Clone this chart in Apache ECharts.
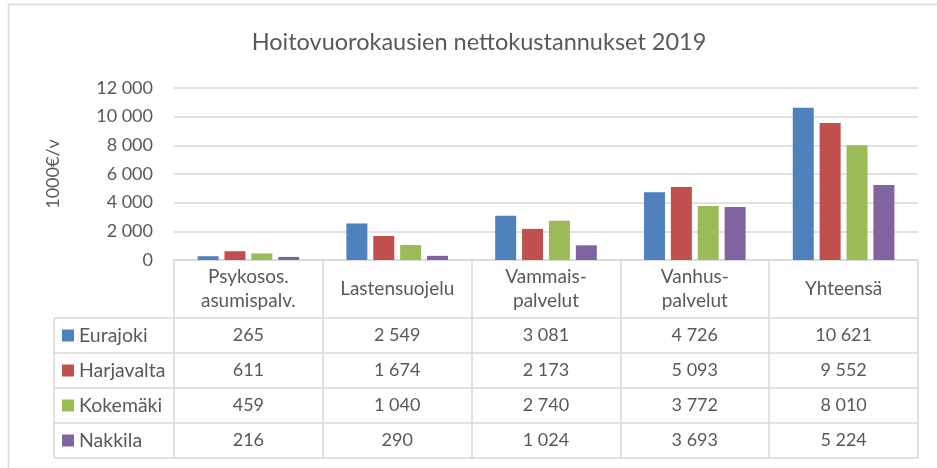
<!DOCTYPE html>
<html>
<head>
<meta charset="utf-8">
<script src="https://cdn.jsdelivr.net/npm/echarts@6/dist/echarts.min.js"></script>
<style>
  html, body { margin: 0; padding: 0; background: #fff; }
  #chart { width: 937px; height: 468px; }
</style>
</head>
<body>
<div id="chart"></div>
<script>
// data
const categories = ["Psykosos.\nasumispalv.", "Lastensuojelu", "Vammais-\npalvelut", "Vanhus-\npalvelut", "Yhteensä"];
const seriesNames = ["Eurajoki", "Harjavalta", "Kokemäki", "Nakkila"];
const eurajoki = [265, 2549, 3081, 4726, 10621];
const harjavalta = [611, 1674, 2173, 5093, 9552];
const kokemaki = [459, 1040, 2740, 3772, 8010];
const nakkila = [216, 290, 1024, 3693, 5224];
const yTicks = [0, 2000, 4000, 6000, 8000, 10000, 12000];
const colors = ["#4F81BD", "#C0504D", "#9BBB59", "#8064A2"];

const allValues = [eurajoki, harjavalta, kokemaki, nakkila];
const FONT = "Lato";
const TEXT = "#595959";
const LINE = "#d9d9d9";

// layout
const gridLeft = 174, gridRight = 918, gridTop = 88, gridBottom = 260;
const headerBottom = 318, rowH = 35, tableLeft = 54;

function fmt(v) {
  return String(v).replace(/\B(?=(\d{3})+(?!\d))/g, " ");
}

const chart = echarts.init(document.getElementById("chart"));

const series = seriesNames.map((name, i) => ({
  name: name,
  type: "bar",
  data: allValues[i],
  barWidth: 21,
  barGap: "28%",
  itemStyle: { color: colors[i] },
}));

chart.setOption({
  animation: false,
  textStyle: { fontFamily: FONT },
  grid: {
    left: gridLeft,
    right: 937 - gridRight,
    top: gridTop,
    bottom: 468 - gridBottom,
  },
  xAxis: {
    type: "category",
    data: categories,
    axisLine: { lineStyle: { color: LINE, width: 1.5 } },
    axisTick: {
      show: true,
      interval: 0,
      length: headerBottom + rowH * 4 - gridBottom,
      lineStyle: { color: LINE, width: 1.5 },
    },
    axisLabel: {
      interval: 0,
      color: TEXT,
      fontSize: 19,
      lineHeight: 24,
      verticalAlign: "middle",
      margin: 29,
    },
  },
  yAxis: {
    type: "value",
    min: yTicks[0],
    max: yTicks[yTicks.length - 1],
    interval: 2000,
    name: "1000€/v",
    nameLocation: "middle",
    nameRotate: 90,
    nameGap: 112,
    nameTextStyle: { color: TEXT, fontSize: 18 },
    axisLine: { show: false },
    axisTick: { show: false },
    axisLabel: { color: TEXT, fontSize: 18, margin: 21, formatter: (v) => fmt(v) },
    splitLine: { lineStyle: { color: LINE, width: 1.5 } },
  },
  series: series,
});

// data table below the axis, built from the same arrays
const elements = [];
// outer chart border (top and left visible)
elements.push({
  type: "rect",
  shape: { x: 8.5, y: 4.5, width: 960, height: 500 },
  style: { fill: null, stroke: LINE, lineWidth: 1.5 },
  silent: true,
});
// title
elements.push({
  type: "text",
  x: 479,
  y: 42,
  style: {
    text: "Hoitovuorokausien nettokustannukset 2019",
    fill: TEXT,
    font: "23.5px " + FONT,
    textAlign: "center",
    textVerticalAlign: "middle",
  },
});
// horizontal table lines
for (let r = 0; r <= 4; r++) {
  const y = headerBottom + r * rowH;
  elements.push({
    type: "line",
    shape: { x1: tableLeft, y1: y, x2: gridRight, y2: y },
    style: { stroke: LINE, lineWidth: 1.5 },
  });
}
// left border of legend column
elements.push({
  type: "line",
  shape: { x1: tableLeft, y1: headerBottom, x2: tableLeft, y2: headerBottom + rowH * 4 },
  style: { stroke: LINE, lineWidth: 1.5 },
});
seriesNames.forEach((name, r) => {
  const cy = headerBottom + r * rowH + rowH / 2;
  elements.push({
    type: "rect",
    shape: { x: 62, y: cy - 6, width: 12, height: 12 },
    style: { fill: colors[r] },
  });
  elements.push({
    type: "text",
    x: 79,
    y: cy,
    style: { text: name, fill: TEXT, font: "19.5px " + FONT, textVerticalAlign: "middle" },
  });
  allValues[r].forEach((v, c) => {
    const px = chart.convertToPixel({ xAxisIndex: 0 }, c);
    elements.push({
      type: "text",
      x: px,
      y: cy,
      style: {
        text: fmt(v),
        fill: TEXT,
        font: "18px " + FONT,
        textAlign: "center",
        textVerticalAlign: "middle",
      },
    });
  });
});

chart.setOption({ graphic: { elements: elements } });
</script>
</body>
</html>
